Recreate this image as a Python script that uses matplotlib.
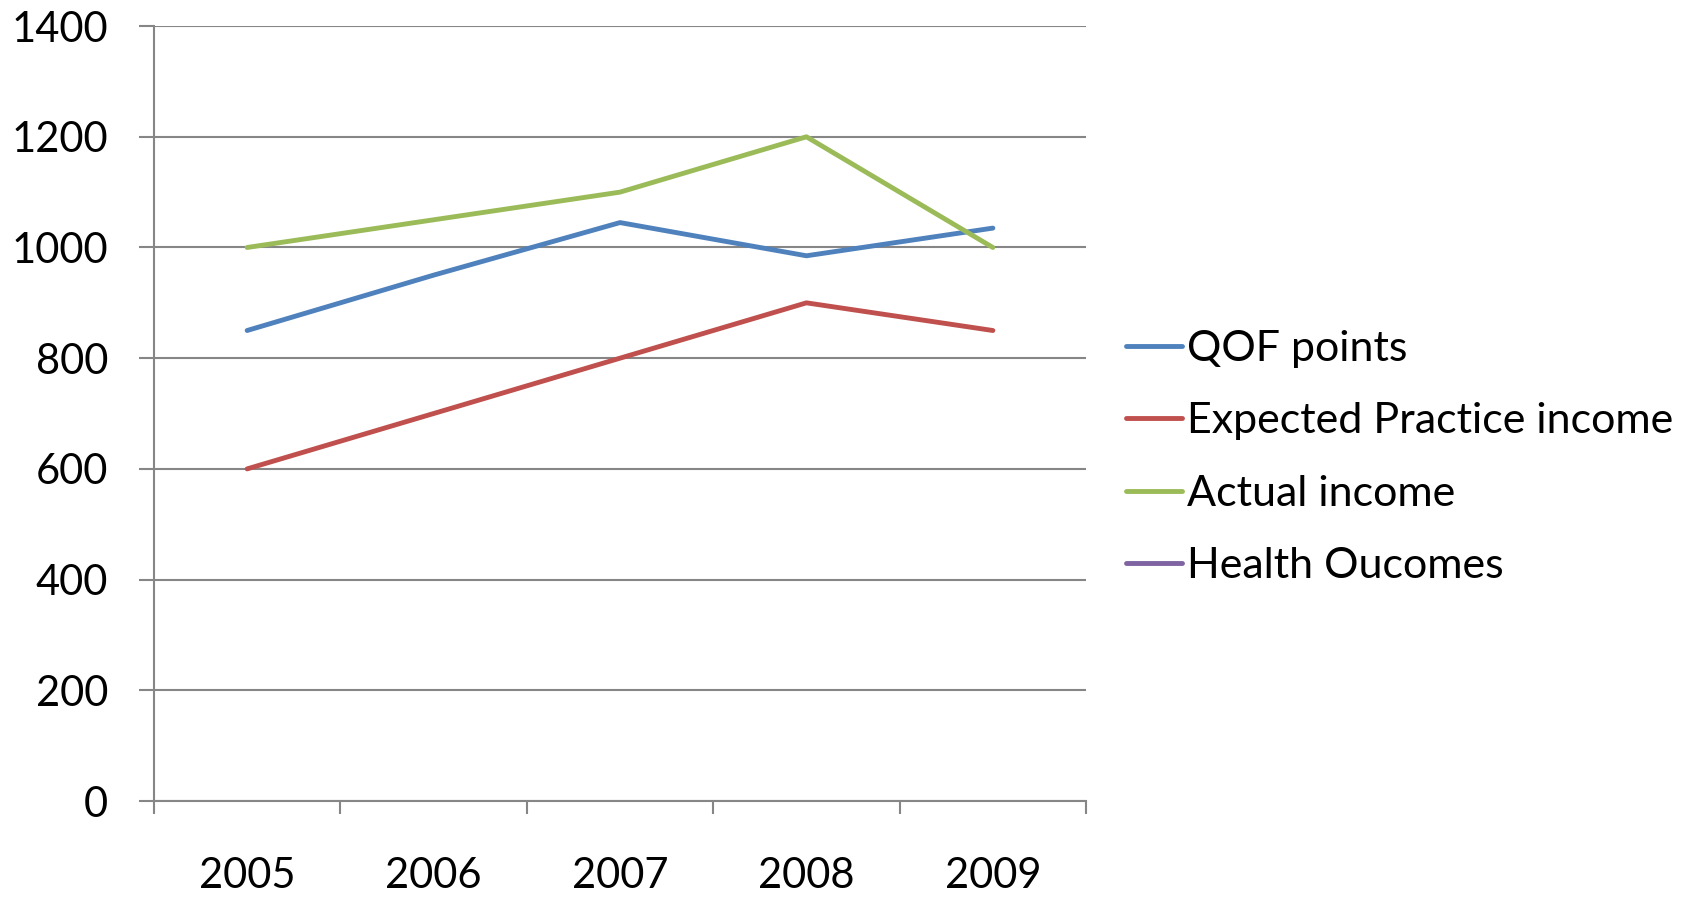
import matplotlib.pyplot as plt
import numpy as np

# --- Data ---
years = ['2005', '2006', '2007', '2008', '2009']
qof_points = [850, 950, 1045, 985, 1035]
expected_income = [600, 700, 800, 900, 850]
actual_income = [1000, 1050, 1100, 1200, 1000]
health_outcomes = [np.nan] * 5   # series present in legend only

labels = ['QOF points', 'Expected Practice income', 'Actual income', 'Health Oucomes']
colors = ['#4F81BD', '#C0504D', '#9BBB59', '#8064A2']

plt.rcParams['font.family'] = ['Lato', 'DejaVu Sans']
grey = '#868686'

fig = plt.figure(figsize=(16.97, 8.99), dpi=100)
ax = fig.add_axes([0.0907, 0.109, 0.5493, 0.862])

x = np.arange(len(years))
series = [qof_points, expected_income, actual_income, health_outcomes]
for vals, lab, col in zip(series, labels, colors):
    ax.plot(x, vals, color=col, linewidth=3.5, label=lab, solid_capstyle='round')

# --- Axes styling ---
ax.set_xlim(-0.5, len(years) - 0.5)
ax.set_ylim(0, 1400)
ax.set_yticks(np.arange(0, 1401, 200))
ax.yaxis.grid(True, color=grey, linewidth=1.5)
ax.set_axisbelow(True)

# category boundaries as major ticks, labels centred as minor ticks
ax.set_xticks(np.arange(-0.5, len(years), 1.0))
ax.set_xticklabels([])
ax.set_xticks(x, minor=True)
ax.set_xticklabels(years, minor=True)
ax.tick_params(axis='x', which='major', direction='out', length=9.5, width=1.5, color=grey)
ax.tick_params(axis='x', which='minor', length=0, pad=40, labelsize=30)
ax.tick_params(axis='y', direction='out', length=11, width=1.5, color=grey, pad=22, labelsize=30)

for s in ['top', 'right']:
    ax.spines[s].set_visible(False)
for s in ['left', 'bottom']:
    ax.spines[s].set_color(grey)
    ax.spines[s].set_linewidth(1.5)

fig.legend(loc='center left', bbox_to_anchor=(0.6635, 0.491), frameon=False,
           fontsize=31, handlelength=1.3, handletextpad=0.12, labelspacing=0.8,
           borderpad=0, borderaxespad=0)

fig.savefig('out.png', dpi=100)
